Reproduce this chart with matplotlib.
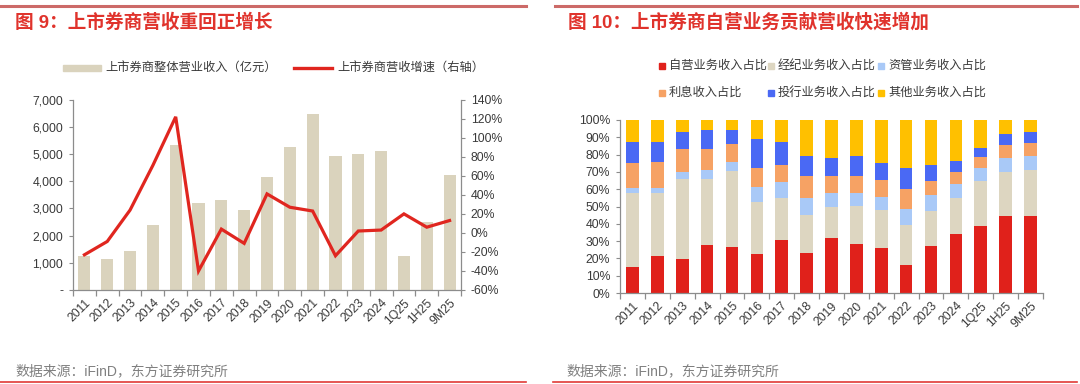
import matplotlib
matplotlib.use("Agg")
import matplotlib.pyplot as plt
from matplotlib.patches import Rectangle
from matplotlib.lines import Line2D
import numpy as np
from matplotlib.ticker import FuncFormatter, FixedLocator

plt.rcParams['font.family'] = ['Liberation Sans', 'Noto Sans CJK SC', 'DejaVu Sans']

# ---------------- data ----------------
periods = ['2011', '2012', '2013', '2014', '2015', '2016', '2017', '2018', '2019',
           '2020', '2021', '2022', '2023', '2024', '1Q25', '1H25', '9M25']

revenue = [1260, 1150, 1430, 2390, 5320, 3210, 3310, 2940, 4150,
           5260, 6460, 4930, 4990, 5110, 1250, 2510, 4220]          # 亿元
growth = [-23, -9, 24, 71, 122, -40, 4, -11, 41,
          27, 23, -24, 2, 3, 20, 6, 13]                               # %

share_names = ['自营业务收入占比', '经纪业务收入占比', '资管业务收入占比',
               '利息收入占比', '投行业务收入占比', '其他业务收入占比']
share_prop = [15.2, 21.6, 19.7, 27.9, 26.8, 22.4, 30.6, 23.3, 31.8,
              28.3, 26.0, 16.0, 27.0, 34.1, 38.5, 44.5, 44.3]
share_brok = [42.8, 36.2, 46.0, 37.8, 43.7, 30.2, 24.1, 21.6, 18.1,
              21.8, 21.8, 23.1, 20.2, 20.8, 26.2, 25.2, 26.8]
share_am = [2.5, 2.7, 4.3, 5.4, 5.4, 8.9, 9.7, 10.2, 7.7,
            7.5, 7.9, 9.5, 9.3, 8.3, 7.7, 8.3, 7.9]
share_int = [14.8, 15.4, 13.0, 12.1, 10.4, 10.8, 9.8, 12.5, 10.2,
             10.2, 9.4, 11.5, 8.4, 6.7, 6.2, 7.7, 7.9]
share_ib = [12.0, 11.6, 9.9, 11.0, 8.1, 16.9, 13.1, 11.8, 10.0,
            11.4, 9.9, 12.0, 9.3, 6.2, 5.4, 6.2, 6.0]
share_other = [12.7, 12.5, 7.1, 5.8, 5.6, 10.8, 12.7, 20.6, 22.2,
               20.8, 25.0, 27.9, 25.8, 23.9, 16.0, 8.1, 7.1]

left_title = '图 9：上市券商营收重回正增长'
right_title = '图 10：上市券商自营业务贡献营收快速增加'
bar_label = '上市券商整体营业收入（亿元）'
line_label = '上市券商营收增速（右轴）'
source = '数据来源：iFinD，东方证券研究所'

# ---------------- style ----------------
W, H = 1080, 384
TITLE_RED = '#E0332C'
BEIGE_L = '#DAD3BD'
LINE_RED = '#E0261F'
share_colors = ['#E0211B', '#DDD6C1', '#A9C9F7', '#F6A264', '#4A69F4', '#FFC000']
AX_COL = '#8C8C8C'
TXT = '#3A3A3A'
TICK_FS = 8.8


def fx(x):
    return x / W


def fy(y):
    return 1 - y / H


fig = plt.figure(figsize=(W / 100, H / 100), dpi=100)

# decoration lines
for (x0, x1) in [(0, 526), (555, 1077)]:
    fig.add_artist(Line2D([fx(x0), fx(x1)], [fy(5.7), fy(5.7)], color='#CC6A68', lw=2.2,
                          transform=fig.transFigure))
for (x0, x1) in [(0, 526), (553, 1077)]:
    fig.add_artist(Line2D([fx(x0), fx(x1)], [fy(381.5), fy(381.5)], color='#E03A36', lw=1.2,
                          transform=fig.transFigure))

# titles
fig.text(fx(15), fy(22.5), left_title, color=TITLE_RED, fontsize=13.4, fontweight='bold',
         va='center', ha='left')
fig.text(fx(568), fy(22.5), right_title, color=TITLE_RED, fontsize=13.4, fontweight='bold',
         va='center', ha='left')
# sources
for x0 in (15, 566):
    fig.text(fx(x0), fy(371), source, color='#808080', fontsize=10, va='center', ha='left')

x = np.arange(len(periods))

# ---------------- left chart ----------------
axL = fig.add_axes([fx(73), fy(290), fx(461) - fx(73), fy(99.7) - fy(290)])
axL.bar(x, revenue, width=0.53, color=BEIGE_L, zorder=2)
axL.set_xlim(-0.5, len(periods) - 0.5)
axL.set_ylim(0, 7000)
axL.yaxis.set_major_locator(FixedLocator(np.arange(0, 7001, 1000)))
axL.yaxis.set_major_formatter(FuncFormatter(lambda v, p: '-' if v == 0 else f'{int(v):,}'))
axR = axL.twinx()
axR.plot(x, growth, color=LINE_RED, lw=2.3, zorder=3, solid_joinstyle='miter')
axR.set_ylim(-60, 140)
axR.yaxis.set_major_locator(FixedLocator(np.arange(-60, 141, 20)))
axR.yaxis.set_major_formatter(FuncFormatter(lambda v, p: f'{int(v)}%'))

for a in (axL, axR):
    a.spines['top'].set_visible(False)
    for s in a.spines.values():
        s.set_color(AX_COL)
        s.set_linewidth(0.9)
axL.spines['right'].set_visible(False)
axR.spines['left'].set_visible(False)
axR.spines['bottom'].set_visible(False)
axL.tick_params(axis='y', labelsize=TICK_FS, colors=AX_COL, labelcolor=TXT, length=3, pad=4)
axR.tick_params(axis='y', labelsize=TICK_FS, colors=AX_COL, labelcolor=TXT, length=3, pad=4)


def setup_xaxis(a):
    a.set_xticks(x)
    a.set_xticklabels(periods, rotation=45, ha='right', rotation_mode='anchor')
    a.tick_params(axis='x', which='major', length=0, labelsize=TICK_FS, labelcolor=TXT, pad=5)
    a.set_xticks(np.arange(-0.5, len(periods), 1.0), minor=True)
    a.tick_params(axis='x', which='minor', length=4, color=AX_COL, width=0.9)


setup_xaxis(axL)

# left legend (manual)
fig.add_artist(Rectangle((fx(63), fy(71)), fx(101) - fx(63), fy(65) - fy(71), color=BEIGE_L,
                         transform=fig.transFigure))
fig.text(fx(105), fy(67.5), bar_label, fontsize=8.8, color=TXT, va='center', ha='left')
fig.add_artist(Line2D([fx(294), fx(332)], [fy(67.5), fy(67.5)], color=LINE_RED, lw=2.4,
                      transform=fig.transFigure))
fig.text(fx(337), fy(67.5), line_label, fontsize=8.8, color=TXT, va='center', ha='left')

# ---------------- right chart ----------------
ax2 = fig.add_axes([fx(620), fy(293), fx(1043) - fx(620), fy(120) - fy(293)])
shares = [share_prop, share_brok, share_am, share_int, share_ib, share_other]
bottom = np.zeros(len(periods))
for vals, c, name in zip(shares, share_colors, share_names):
    v = np.array(vals, dtype=float)
    ax2.bar(x, v, bottom=bottom, width=0.51, color=c, zorder=2, label=name)
    bottom += v
ax2.set_xlim(-0.5, len(periods) - 0.5)
ax2.set_ylim(0, 100)
ax2.yaxis.set_major_locator(FixedLocator(np.arange(0, 101, 10)))
ax2.yaxis.set_major_formatter(FuncFormatter(lambda v, p: f'{int(v)}%'))
for k in ('top', 'right'):
    ax2.spines[k].set_visible(False)
for k in ('left', 'bottom'):
    ax2.spines[k].set_color(AX_COL)
    ax2.spines[k].set_linewidth(0.9)
ax2.tick_params(axis='y', labelsize=TICK_FS, colors=AX_COL, labelcolor=TXT, length=3, pad=4)
setup_xaxis(ax2)

# right legend (manual, 3 columns x 2 rows)
col_x = [662, 771, 881]
row_y = [65.7, 92.7]
for i, (name, c) in enumerate(zip(share_names, share_colors)):
    r, cidx = divmod(i, 3)
    mx, my = col_x[cidx], row_y[r]
    fig.add_artist(Rectangle((fx(mx - 3), fy(my + 3)), fx(6), 6 / H, color=c,
                             transform=fig.transFigure))
    fig.text(fx(mx + 7), fy(my), name, fontsize=8.8, color=TXT, va='center', ha='left')

fig.savefig('out.png', dpi=100)
